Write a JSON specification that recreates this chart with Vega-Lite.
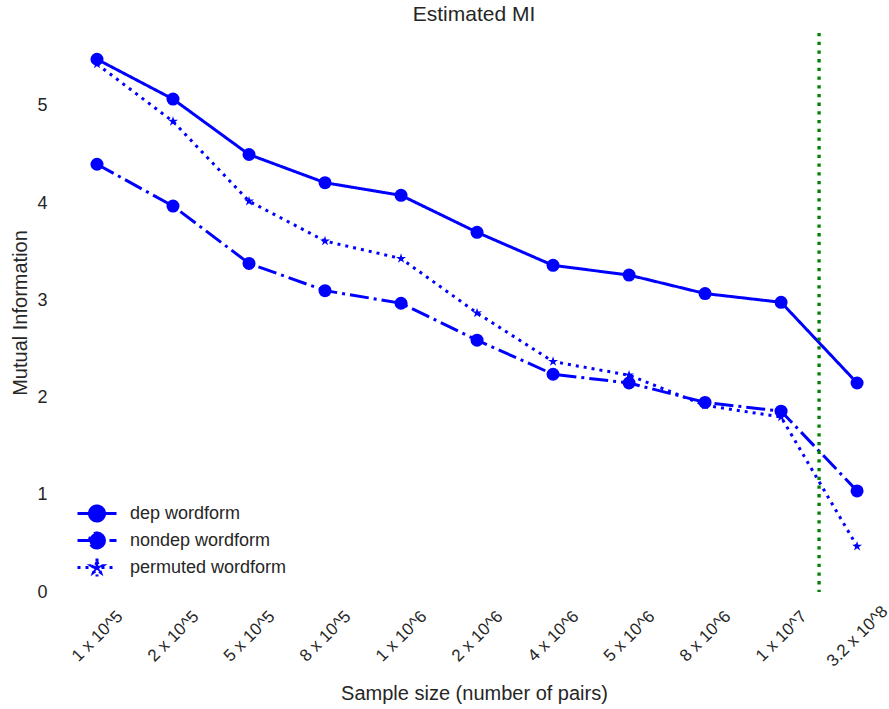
{
  "$schema": "https://vega.github.io/schema/vega-lite/v6.json",
  "width": 830,
  "height": 559,
  "autosize": "none",
  "padding": {"left": 59, "top": 33, "right": 0, "bottom": 117},
  "background": "white",
  "config": {
    "font": "Liberation Sans",
    "view": {"stroke": null},
    "axis": {"grid": false, "domain": false, "ticks": false, "labelColor": "#262626", "titleColor": "#262626", "labelFontSize": 18, "titleFontSize": 20, "titleFontWeight": "normal"}
  },
  "title": {"text": "Estimated MI", "fontSize": 21, "fontWeight": "normal", "color": "#262626", "offset": 6},
  "datasets": {
    "mi": [
      {"idx": 0, "size": "1 x 10^5", "series": "dep wordform", "mi": 5.48},
      {"idx": 1, "size": "2 x 10^5", "series": "dep wordform", "mi": 5.07},
      {"idx": 2, "size": "5 x 10^5", "series": "dep wordform", "mi": 4.50},
      {"idx": 3, "size": "8 x 10^5", "series": "dep wordform", "mi": 4.21},
      {"idx": 4, "size": "1 x 10^6", "series": "dep wordform", "mi": 4.08},
      {"idx": 5, "size": "2 x 10^6", "series": "dep wordform", "mi": 3.70},
      {"idx": 6, "size": "4 x 10^6", "series": "dep wordform", "mi": 3.36},
      {"idx": 7, "size": "5 x 10^6", "series": "dep wordform", "mi": 3.26},
      {"idx": 8, "size": "8 x 10^6", "series": "dep wordform", "mi": 3.07},
      {"idx": 9, "size": "1 x 10^7", "series": "dep wordform", "mi": 2.98},
      {"idx": 10, "size": "3.2 x 10^8", "series": "dep wordform", "mi": 2.15},
      {"idx": 0, "size": "1 x 10^5", "series": "nondep wordform", "mi": 4.40},
      {"idx": 1, "size": "2 x 10^5", "series": "nondep wordform", "mi": 3.97},
      {"idx": 2, "size": "5 x 10^5", "series": "nondep wordform", "mi": 3.38},
      {"idx": 3, "size": "8 x 10^5", "series": "nondep wordform", "mi": 3.10},
      {"idx": 4, "size": "1 x 10^6", "series": "nondep wordform", "mi": 2.97},
      {"idx": 5, "size": "2 x 10^6", "series": "nondep wordform", "mi": 2.59},
      {"idx": 6, "size": "4 x 10^6", "series": "nondep wordform", "mi": 2.24},
      {"idx": 7, "size": "5 x 10^6", "series": "nondep wordform", "mi": 2.15},
      {"idx": 8, "size": "8 x 10^6", "series": "nondep wordform", "mi": 1.95},
      {"idx": 9, "size": "1 x 10^7", "series": "nondep wordform", "mi": 1.86},
      {"idx": 10, "size": "3.2 x 10^8", "series": "nondep wordform", "mi": 1.04},
      {"idx": 0, "size": "1 x 10^5", "series": "permuted wordform", "mi": 5.43},
      {"idx": 1, "size": "2 x 10^5", "series": "permuted wordform", "mi": 4.84},
      {"idx": 2, "size": "5 x 10^5", "series": "permuted wordform", "mi": 4.02},
      {"idx": 3, "size": "8 x 10^5", "series": "permuted wordform", "mi": 3.61},
      {"idx": 4, "size": "1 x 10^6", "series": "permuted wordform", "mi": 3.43},
      {"idx": 5, "size": "2 x 10^6", "series": "permuted wordform", "mi": 2.87},
      {"idx": 6, "size": "4 x 10^6", "series": "permuted wordform", "mi": 2.37},
      {"idx": 7, "size": "5 x 10^6", "series": "permuted wordform", "mi": 2.23},
      {"idx": 8, "size": "8 x 10^6", "series": "permuted wordform", "mi": 1.92},
      {"idx": 9, "size": "1 x 10^7", "series": "permuted wordform", "mi": 1.80},
      {"idx": 10, "size": "3.2 x 10^8", "series": "permuted wordform", "mi": 0.47}
    ],
    "vline": [{"idx": 9.5}]
  },
  "layer": [
    {
      "data": {"name": "mi"},
      "mark": {"type": "line", "strokeWidth": 3, "color": "blue"},
      "encoding": {
        "x": {"field": "idx", "type": "quantitative", "scale": {"domain": [-0.5, 10.42], "nice": false, "zero": false},
          "axis": {"values": [0,1,2,3,4,5,6,7,8,9,10],
            "labelExpr": "['1 x 10^5','2 x 10^5','5 x 10^5','8 x 10^5','1 x 10^6','2 x 10^6','4 x 10^6','5 x 10^6','8 x 10^6','1 x 10^7','3.2 x 10^8'][datum.value]",
            "labelAngle": -45, "labelAlign": "center", "labelBaseline": "middle", "labelPadding": 44, "labelOverlap": false, "labelFlush": false, "labelFontSize": 17,
            "title": "Sample size (number of pairs)", "titleY": 107, "titleBaseline": "alphabetic"}},
        "y": {"field": "mi", "type": "quantitative", "scale": {"domain": [0, 5.75], "nice": false},
          "axis": {"values": [0,1,2,3,4,5], "format": "d", "labelPadding": 12, "title": "Mutual Information", "titleX": -33, "titleBaseline": "alphabetic"}},
        "strokeDash": {"field": "series", "type": "nominal",
          "scale": {"domain": ["dep wordform", "nondep wordform", "permuted wordform"], "range": [[1, 0], [19, 5, 3, 5], [3, 5]]},
          "legend": {"orient": "none", "legendX": 26.5, "legendY": 469, "title": null, "padding": 0,
            "symbolSize": 400, "symbolStrokeWidth": 3, "labelFontSize": 18, "labelColor": "#262626", "labelOffset": 21.5, "rowPadding": -4,
            "encoding": {"symbols": {
              "shape": {"value": {"expr": "datum.value === 'permuted wordform' ? 'M-1.95,0L1.95,0M0,-0.9L0,0.9M0,-0.6L0.134,-0.184L0.571,-0.185L0.217,0.07L0.353,0.485L0,0.228L-0.353,0.485L-0.217,0.07L-0.571,-0.185L-0.134,-0.184Z' : 'M-1.95,0L1.95,0M0,-0.9L0,0.9M0.75,0A0.75,0.75,0,1,1,-0.75,0A0.75,0.75,0,1,1,0.75,0Z'"}},
              "fill": {"value": "blue"}, "stroke": {"value": "blue"}, "opacity": {"value": 1}, "fillOpacity": {"value": 1}}}}}
      }
    },
    {
      "data": {"name": "mi"},
      "transform": [{"filter": "datum.series !== 'permuted wordform'"}],
      "mark": {"type": "point", "filled": true, "opacity": 1, "color": "blue", "strokeWidth": 0, "shape": "circle", "size": 169},
      "encoding": {
        "x": {"field": "idx", "type": "quantitative"},
        "y": {"field": "mi", "type": "quantitative"}
      }
    },
    {
      "data": {"name": "mi"},
      "transform": [{"filter": "datum.series === 'permuted wordform'"}],
      "mark": {"type": "point", "filled": true, "opacity": 1, "color": "blue", "strokeWidth": 0, "size": 110,
        "shape": "M0,-1L0.223,-0.307L0.951,-0.309L0.361,0.117L0.588,0.809L0,0.38L-0.588,0.809L-0.361,0.117L-0.951,-0.309L-0.223,-0.307Z"},
      "encoding": {
        "x": {"field": "idx", "type": "quantitative"},
        "y": {"field": "mi", "type": "quantitative"}
      }
    },
    {
      "data": {"name": "vline"},
      "mark": {"type": "rule", "color": "#008000", "strokeWidth": 3.3, "strokeDash": [3.3, 5.4]},
      "encoding": {"x": {"field": "idx", "type": "quantitative"}}
    }
  ]
}
